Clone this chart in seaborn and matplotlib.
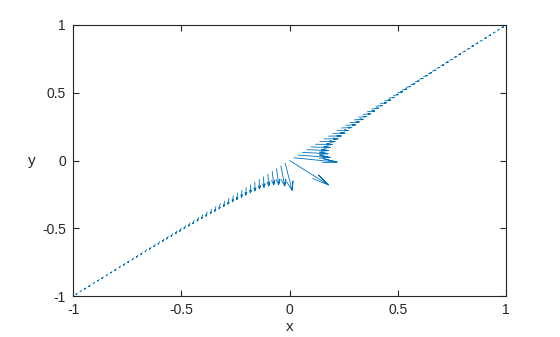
import matplotlib
matplotlib.use("Agg")
import matplotlib.pyplot as plt
import seaborn as sns
import pandas as pd

# arrow tails (points along the diagonal)
x_pos = [-0.98, -0.96, -0.94, -0.92, -0.90, -0.88, -0.86, -0.84, -0.82, -0.80,
         -0.78, -0.76, -0.74, -0.72, -0.70, -0.68, -0.66, -0.64, -0.62, -0.60,
         -0.58, -0.56, -0.54, -0.52, -0.50, -0.48, -0.46, -0.44, -0.42, -0.40,
         -0.38, -0.36, -0.34, -0.32, -0.30, -0.28, -0.26, -0.24, -0.22, -0.20,
         -0.18, -0.16, -0.14, -0.12, -0.10, -0.08, -0.06, -0.04, -0.02, 0.00,
         0.02, 0.04, 0.06, 0.08, 0.10, 0.12, 0.14, 0.16, 0.18, 0.20,
         0.22, 0.24, 0.26, 0.28, 0.30, 0.32, 0.34, 0.36, 0.38, 0.40,
         0.42, 0.44, 0.46, 0.48, 0.50, 0.52, 0.54, 0.56, 0.58, 0.60,
         0.62, 0.64, 0.66, 0.68, 0.70, 0.72, 0.74, 0.76, 0.78, 0.80,
         0.82, 0.84, 0.86, 0.88, 0.90, 0.92, 0.94, 0.96, 0.98]
y_pos = [-0.98, -0.96, -0.94, -0.92, -0.90, -0.88, -0.86, -0.84, -0.82, -0.80,
         -0.78, -0.76, -0.74, -0.72, -0.70, -0.68, -0.66, -0.64, -0.62, -0.60,
         -0.58, -0.56, -0.54, -0.52, -0.50, -0.48, -0.46, -0.44, -0.42, -0.40,
         -0.38, -0.36, -0.34, -0.32, -0.30, -0.28, -0.26, -0.24, -0.22, -0.20,
         -0.18, -0.16, -0.14, -0.12, -0.10, -0.08, -0.06, -0.04, -0.02, 0.00,
         0.02, 0.04, 0.06, 0.08, 0.10, 0.12, 0.14, 0.16, 0.18, 0.20,
         0.22, 0.24, 0.26, 0.28, 0.30, 0.32, 0.34, 0.36, 0.38, 0.40,
         0.42, 0.44, 0.46, 0.48, 0.50, 0.52, 0.54, 0.56, 0.58, 0.60,
         0.62, 0.64, 0.66, 0.68, 0.70, 0.72, 0.74, 0.76, 0.78, 0.80,
         0.82, 0.84, 0.86, 0.88, 0.90, 0.92, 0.94, 0.96, 0.98]

# vector components as drawn
u_comp = [-0.006, -0.007, -0.007, -0.007, -0.007, -0.007, -0.007, -0.007, -0.007, -0.007,
          -0.007, -0.007, -0.007, -0.007, -0.007, -0.007, -0.007, -0.007, -0.007, -0.007,
          -0.007, -0.007, -0.007, -0.007, -0.007, -0.007, -0.006, -0.006, -0.006, -0.006,
          -0.006, -0.005, -0.005, -0.005, -0.004, -0.004, -0.003, -0.003, -0.002, -0.002,
          -0.001, 0.000, 0.001, 0.002, 0.004, 0.007, 0.010, 0.018, 0.032, 0.180,
          0.200, 0.148, 0.118, 0.100, 0.088, 0.078, 0.070, 0.064, 0.059, 0.055,
          0.051, 0.048, 0.045, 0.042, 0.040, 0.037, 0.035, 0.033, 0.031, 0.029,
          0.027, 0.026, 0.024, 0.023, 0.022, 0.021, 0.020, 0.019, 0.018, 0.017,
          0.016, 0.015, 0.014, 0.014, 0.013, 0.013, 0.012, 0.012, 0.011, 0.011,
          0.010, 0.010, 0.010, 0.009, 0.009, 0.009, 0.009, 0.008, 0.008]
v_comp = [-0.008, -0.008, -0.009, -0.009, -0.009, -0.009, -0.010, -0.010, -0.010, -0.011,
          -0.011, -0.012, -0.012, -0.013, -0.013, -0.014, -0.014, -0.015, -0.016, -0.017,
          -0.018, -0.019, -0.020, -0.021, -0.022, -0.023, -0.024, -0.026, -0.027, -0.029,
          -0.031, -0.033, -0.035, -0.037, -0.040, -0.042, -0.045, -0.048, -0.051, -0.055,
          -0.059, -0.064, -0.070, -0.078, -0.088, -0.100, -0.118, -0.148, -0.200, -0.180,
          -0.032, -0.018, -0.010, -0.007, -0.004, -0.002, -0.001, 0.000, 0.001, 0.002,
          0.002, 0.003, 0.003, 0.004, 0.004, 0.005, 0.005, 0.005, 0.006, 0.006,
          0.006, 0.006, 0.006, 0.007, 0.007, 0.007, 0.007, 0.007, 0.007, 0.007,
          0.007, 0.007, 0.007, 0.007, 0.007, 0.007, 0.007, 0.007, 0.007, 0.007,
          0.007, 0.007, 0.007, 0.007, 0.007, 0.007, 0.007, 0.007, 0.006]

tick_vals = [-1, -0.5, 0, 0.5, 1]
tick_labels = ["-1", "-0.5", "0", "0.5", "1"]

sns.set_theme(style="white")
plt.rcParams["font.family"] = ["Liberation Sans", "DejaVu Sans"]

# build arrow polylines (shaft + open head), Octave-style head geometry
head = 0.33
rows = []
for i, (x, y, u, v) in enumerate(zip(x_pos, y_pos, u_comp, v_comp)):
    tx, ty = x + u, y + v
    bx, by = x + u * (1 - head), y + v * (1 - head)
    x1 = bx + (y - by) * head / 3
    x2 = bx - (y - by) * head / 3
    y1 = by - (x - bx) * head / 3
    y2 = by + (x - bx) * head / 3
    for k, (px, py) in enumerate([(x, y), (tx, ty), (x1, y1), (tx, ty), (x2, y2)]):
        rows.append({"arrow": i, "order": k, "px": px, "py": py})
df = pd.DataFrame(rows)

fig = plt.figure(figsize=(5.6, 3.37), dpi=100)
ax = fig.add_axes([73 / 560, 1 - 296 / 337, (506 - 73) / 560, (296 - 25) / 337])
sns.lineplot(data=df, x="px", y="py", units="arrow", estimator=None, sort=False,
             color="#0072BD", linewidth=0.6, ax=ax, legend=False)

ax.set_xlim(-1, 1)
ax.set_ylim(-1, 1)
ax.set_xticks(tick_vals)
ax.set_xticklabels(tick_labels)
ax.set_yticks(tick_vals)
ax.set_yticklabels(tick_labels)
ax.set_xlabel("x", fontsize=11, color="#262626", labelpad=2)
ax.set_ylabel("y", fontsize=11, color="#262626", rotation=0, ha="center", va="center")
ax.yaxis.set_label_coords(-0.095, 0.5)
for s in ax.spines.values():
    s.set_visible(True)
    s.set_color("#262626")
    s.set_linewidth(0.8)
ax.tick_params(axis="both", which="both", direction="in", length=4, width=0.8,
               top=True, right=True, bottom=True, left=True,
               labelsize=10, colors="#262626", pad=5)
ax.grid(False)
fig.savefig("out.png", dpi=100, facecolor="white")
